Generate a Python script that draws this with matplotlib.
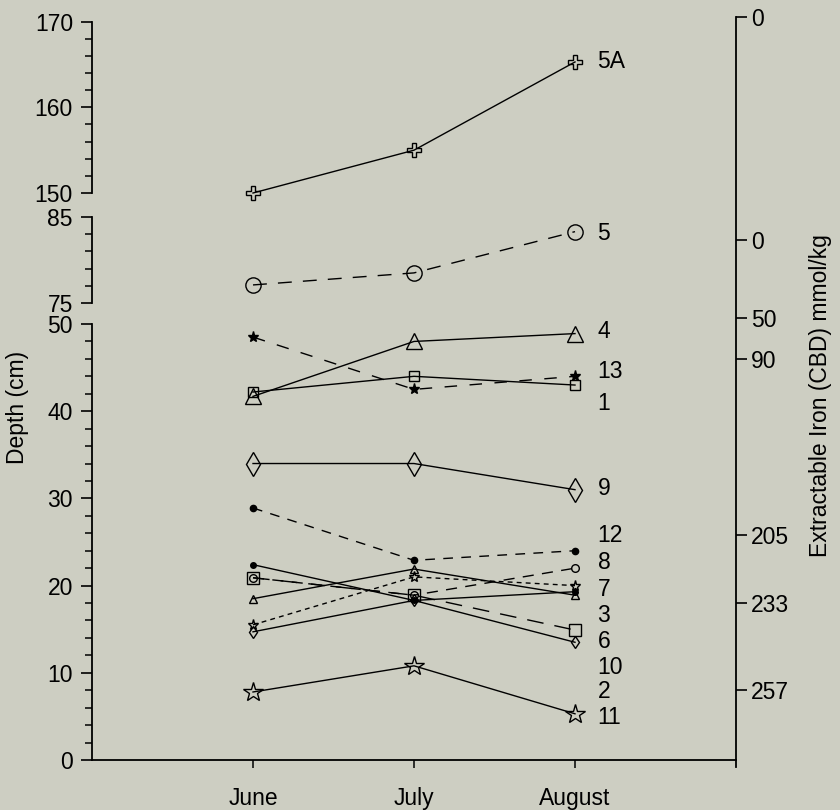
import matplotlib
matplotlib.use("Agg")
import matplotlib.pyplot as plt
from matplotlib.ticker import FixedLocator

plt.rcParams['font.family'] = ['Liberation Sans', 'DejaVu Sans']
plt.rcParams['font.size'] = 16.5

months = ["June", "July", "August"]
x = [1, 2, 3]

# depth (cm) per site for June / July / August
depth = {
    "5A": [150.0, 155.0, 165.3],
    "5":  [77.1, 78.5, 83.3],
    "4":  [41.7, 48.0, 48.9],
    "13": [48.5, 42.5, 44.0],
    "1":  [42.2, 44.0, 43.0],
    "9":  [34.0, 34.0, 31.0],
    "12": [28.9, 22.9, 24.0],
    "8":  [20.9, 18.9, 22.0],
    "7":  [15.5, 21.0, 20.0],
    "3":  [20.9, 18.9, 14.9],
    "10": [18.5, 21.9, 18.9],
    "2":  [22.4, 18.3, 19.3],
    "6":  [14.7, 18.3, 13.5],
    "11": [7.8, 10.8, 5.3],
}

# site labels at the right of the August column
site_labels = ["5A", "5", "4", "13", "1", "9", "12", "8", "7", "3", "6", "10", "2", "11"]
label_depth = [165.3, 83.1, 49.1, 44.6, 40.9, 31.1, 25.7, 22.6, 19.6, 16.6, 13.6, 10.6, 7.8, 4.9]

# right hand scale: extractable iron
iron_labels = ["0", "0", "50", "90", "205", "233", "257"]
iron_depth = [170.55, 82.3, 50.7, 46.0, 25.8, 18.0, 8.0]

styles = {
    "5A": dict(marker="P", ms=10, mfc="none", ls="-"),
    "5":  dict(marker="o", ms=11, mfc="none", ls=(0, (10, 8))),
    "4":  dict(marker="^", ms=11, mfc="none", ls="-"),
    "13": dict(marker="*", ms=8, mfc="k", ls=(0, (9, 9))),
    "1":  dict(marker="s", ms=7.5, mfc="none", ls="-"),
    "9":  dict(marker="d", ms=12, mfc="none", ls="-"),
    "12": dict(marker="o", ms=4.5, mfc="k", ls=(0, (7, 6))),
    "8":  dict(marker="o", ms=5.5, mfc="none", ls=(0, (8, 6))),
    "7":  dict(marker="*", ms=8, mfc="none", ls=(0, (3.5, 3))),
    "3":  dict(marker="s", ms=8, mfc="none", ls=(0, (12, 8))),
    "10": dict(marker="^", ms=6, mfc="none", ls="-"),
    "2":  dict(marker="o", ms=4, mfc="k", ls="-"),
    "6":  dict(marker="d", ms=6, mfc="none", ls="-"),
    "11": dict(marker="*", ms=15, mfc="none", ls="-"),
}

bg = "#cdcec2"
fig = plt.figure(figsize=(8.4, 8.1), dpi=100, facecolor=bg)

L, W = 92 / 840, 644 / 840


def px_axes(top_px, bot_px):
    return fig.add_axes([L, 1 - bot_px / 810, W, (bot_px - top_px) / 810])


seg_lims = [(150, 170), (75, 85), (0, 50)]
seg_px = [(21.7, 193), (217, 303), (324, 760)]
seg_major = [[150, 160, 170], [75, 85], list(range(0, 51, 10))]
seg_minor = [list(range(150, 171, 2)), [77, 79, 81, 83], list(range(0, 51, 2))]

axes = []
for i, (lim, (tp, bp)) in enumerate(zip(seg_lims, seg_px)):
    ax = px_axes(tp, bp)
    ax.set_facecolor("none")
    ax.set_xlim(0, 4)
    ax.set_ylim(*lim)
    for s in ["top", "right"]:
        ax.spines[s].set_visible(False)
    ax.spines["left"].set_linewidth(1.3)
    ax.yaxis.set_major_locator(FixedLocator(seg_major[i]))
    ax.yaxis.set_minor_locator(FixedLocator(seg_minor[i]))
    ax.tick_params(axis="y", which="major", direction="out", length=7.7, width=1.2, pad=6)
    ax.tick_params(axis="y", which="minor", direction="out", length=4.8, width=1.1)
    if i < 2:
        ax.spines["bottom"].set_visible(False)
        ax.set_xticks([])
    else:
        ax.spines["bottom"].set_linewidth(1.3)
        ax.set_xticks(x)
        ax.set_xticklabels(months)
        ax.tick_params(axis="x", direction="out", length=5.5, width=1.1, pad=14)
    axes.append(ax)


def seg_for(d):
    for ax, (lo, hi) in zip(axes, seg_lims):
        if lo - 1 <= d <= hi + 1:
            return ax
    return axes[-1]


for name, vals in depth.items():
    st = styles[name]
    ax = seg_for(vals[0])
    ax.plot(x, vals, color="k", lw=1.0, linestyle=st["ls"], marker=st["marker"],
            ms=st["ms"], mfc=st["mfc"], mec="k", mew=1.0, clip_on=False)

for lab, d in zip(site_labels, label_depth):
    seg_for(d).text(3.14, d, lab, ha="left", va="center", fontsize=16.5)

# right hand iron scale spanning the whole height
axr = px_axes(17, 767)
axr.set_facecolor("none")
axr.set_ylim(0, 1)
axr.set_xticks([])
for s in ["top", "left", "bottom"]:
    axr.spines[s].set_visible(False)
axr.spines["right"].set_linewidth(1.3)
pos = []
for d in iron_depth:
    ydisp = seg_for(d).transData.transform((1, d))[1]
    pos.append(axr.transAxes.inverted().transform((0, ydisp))[1])
axr.yaxis.tick_right()
axr.set_yticks(pos)
axr.set_yticklabels(iron_labels)
axr.tick_params(axis="y", direction="out", length=8, width=1.2, pad=3)

fig.text(17.5 / 840, 1 - 407 / 810, "Depth (cm)", rotation=90, ha="center", va="center")
fig.text(820 / 840, 1 - 396 / 810, "Extractable Iron (CBD) mmol/kg", rotation=90,
         ha="center", va="center")

fig.savefig("out.png", dpi=100, facecolor=bg)
